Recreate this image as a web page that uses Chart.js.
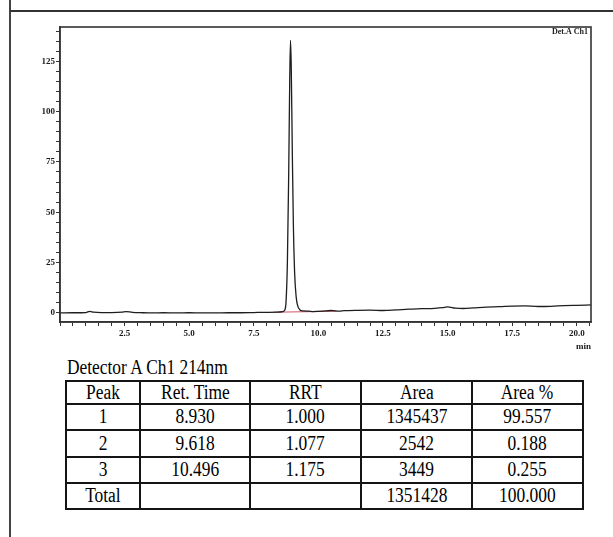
<!DOCTYPE html>
<html>
<head>
<meta charset="utf-8">
<script src="https://cdn.jsdelivr.net/npm/chart.js@4"></script>
<style>
  html, body { margin:0; padding:0; background:#fff; width:613px; height:537px; overflow:hidden; }
  #frameV { position:absolute; left:9px; top:0; width:2px; height:537px; background:#444; }
  #frameH { position:absolute; left:10px; top:10px; width:603px; height:2px; background:#333; }
  #wrap { position:absolute; left:20px; top:18px; width:580px; height:334px; }
  #title { position:absolute; left:67px; top:354px; font-family:"Liberation Serif", serif; font-size:22px; color:#000; transform:scaleX(0.79); transform-origin:left top; white-space:nowrap; }
  table { position:absolute; left:65px; top:380px; border-collapse:collapse; table-layout:fixed; font-family:"Liberation Serif", serif; font-size:20.5px; color:#000; }
  td { border:2px solid #151515; text-align:center; padding:0; line-height:1; vertical-align:middle; }
  td span { display:inline-block; transform:scaleX(0.85); }
</style>
</head>
<body>
<div id="frameV"></div>
<div id="frameH"></div>
<div id="wrap"><canvas id="c" width="580" height="334"></canvas></div>
<div id="title">Detector A Ch1 214nm</div>
<table id="tbl"></table>
<script>
// ---- chromatogram data (min, mV) ----
const times = [0, 0.5, 1.0, 1.15, 1.3, 1.6, 2.0, 2.4, 2.55, 2.8, 3.2, 3.6, 4.0, 4.5, 5.0, 5.5, 6.0, 6.5, 7.0, 7.5, 8.0, 8.4, 8.6, 8.7, 8.75, 8.8, 8.85, 8.89, 8.92, 8.95, 8.99, 9.03, 9.08, 9.14, 9.2, 9.28, 9.4, 9.618, 9.8, 10.0, 10.3, 10.496, 10.8, 11.0, 11.5, 12.0, 12.5, 13.0, 13.5, 14.0, 14.5, 14.8, 15.0, 15.3, 15.6, 16.0, 16.5, 17.0, 17.5, 18.0, 18.5, 19.0, 19.5, 20.0, 20.55];
const signal = [0.0, 0.1, 0.2, 0.8, 0.4, 0.2, 0.2, 0.4, 0.7, 0.3, 0.1, 0.0, 0.1, 0.0, 0.1, 0.0, 0.0, 0.1, 0.1, 0.2, 0.3, 0.4, 0.6, 1.5, 6.0, 25.0, 68.0, 115.0, 135.4, 122.0, 80.0, 45.0, 20.0, 8.0, 3.5, 1.6, 1.0, 0.9, 0.7, 0.8, 1.0, 1.2, 0.9, 1.1, 1.3, 1.4, 1.2, 1.5, 1.9, 2.1, 2.3, 2.6, 3.0, 2.4, 2.2, 2.5, 2.9, 3.1, 3.4, 3.5, 3.2, 3.3, 3.6, 3.8, 4.0];
// integration baseline (red)
const baseTimes = [8.25, 10.7];
const baseValues = [0.35, 0.9];

// ---- axis ticks ----
const xMajor = [2.5, 5.0, 7.5, 10.0, 12.5, 15.0, 17.5, 20.0];
const yMajor = [0, 25, 50, 75, 100, 125];
const xMinorStep = 0.5;
const yMinorStep = 5;

// ---- peak table ----
const tableHeader = ["Peak", "Ret. Time", "RRT", "Area", "Area %"];
const peakNo = ["1", "2", "3", "Total"];
const retTime = ["8.930", "9.618", "10.496", ""];
const rrt = ["1.000", "1.077", "1.175", ""];
const area = ["1345437", "2542", "3449", "1351428"];
const areaPct = ["99.557", "0.188", "0.255", "100.000"];

// build table
(function(){
  const colW = [74, 110, 111, 111, 111];
  const rowH = [24, 28, 29, 28, 28];
  const t = document.getElementById('tbl');
  const cg = document.createElement('colgroup');
  colW.forEach(w => { const c = document.createElement('col'); c.style.width = w + 'px'; cg.appendChild(c); });
  t.appendChild(cg);
  const rows = [tableHeader];
  for (let i = 0; i < peakNo.length; i++) rows.push([peakNo[i], retTime[i], rrt[i], area[i], areaPct[i]]);
  rows.forEach((r, ri) => {
    const tr = document.createElement('tr');
    tr.style.height = (rowH[ri] - 2) + 'px';
    r.forEach(v => { const td = document.createElement('td'); const s = document.createElement('span'); s.textContent = v; td.appendChild(s); tr.appendChild(td); });
    t.appendChild(tr);
  });
})();

const tickFont = { family: "'Liberation Serif', serif", size: 9, weight: 'bold' };

function stepTicks(lo, hi, step) {
  const out = [];
  for (let i = Math.ceil(lo / step - 1e-9); i * step <= hi + 1e-9; i++) out.push({ value: +(i * step).toFixed(4) });
  return out;
}

const framePlugin = {
  id: 'frame',
  afterDraw(chart) {
    const { ctx, chartArea: a } = chart;
    ctx.save();
    ctx.strokeStyle = '#333';
    ctx.lineWidth = 1.6;
    ctx.strokeRect(a.left, a.top, a.right - a.left, a.bottom - a.top);
    ctx.font = "bold 8px 'Liberation Serif', serif";
    ctx.fillStyle = '#222';
    ctx.textAlign = 'right';
    ctx.textBaseline = 'middle';
    ctx.fillText('Det.A Ch1', a.right - 3, a.top + 5);
    ctx.restore();
  }
};

new Chart(document.getElementById('c'), {
  type: 'line',
  data: {
    datasets: [
      {
        data: times.map((t, i) => ({ x: t, y: signal[i] })),
        borderColor: '#1e1e1e',
        borderWidth: 1.3,
        pointRadius: 0,
        cubicInterpolationMode: 'monotone',
        order: 1
      },
      {
        data: baseTimes.map((t, i) => ({ x: t, y: baseValues[i] })),
        borderColor: 'rgba(205,60,80,0.8)',
        borderWidth: 1.2,
        pointRadius: 0,
        order: 2
      }
    ]
  },
  options: {
    responsive: false,
    devicePixelRatio: 1,
    animation: false,
    layout: { padding: { left: 0, right: 9, top: 9, bottom: 0 } },
    plugins: { legend: { display: false }, tooltip: { enabled: false } },
    scales: {
      x: {
        type: 'linear',
        min: 0,
        max: 20.55,
        afterBuildTicks: s => { s.ticks = stepTicks(s.min, s.max, xMinorStep); },
        afterFit: s => { s.height = 30; },
        ticks: {
          autoSkip: false,
          maxRotation: 0,
          padding: 2,
          color: '#1a1a1a',
          font: tickFont,
          callback: v => xMajor.some(m => Math.abs(m - v) < 1e-6) ? Number(v).toFixed(1) : ''
        },
        grid: { drawOnChartArea: false, tickLength: 4, color: '#333' },
        border: { color: '#333', width: 1.5 },
        title: { display: true, text: 'min', align: 'end', color: '#1a1a1a', font: tickFont, padding: { top: 0, bottom: 0 } }
      },
      y: {
        type: 'linear',
        min: -4.5,
        max: 142,
        afterBuildTicks: s => { s.ticks = stepTicks(0, s.max, yMinorStep); },
        afterFit: s => { s.width = 40; },
        ticks: {
          autoSkip: false,
          padding: 1,
          color: '#1a1a1a',
          font: tickFont,
          callback: v => yMajor.some(m => Math.abs(m - v) < 1e-6) ? String(v) : ''
        },
        grid: { drawOnChartArea: false, tickLength: 4, color: '#333' },
        border: { color: '#333', width: 1.5 }
      }
    }
  },
  plugins: [framePlugin]
});
</script>
</body>
</html>
